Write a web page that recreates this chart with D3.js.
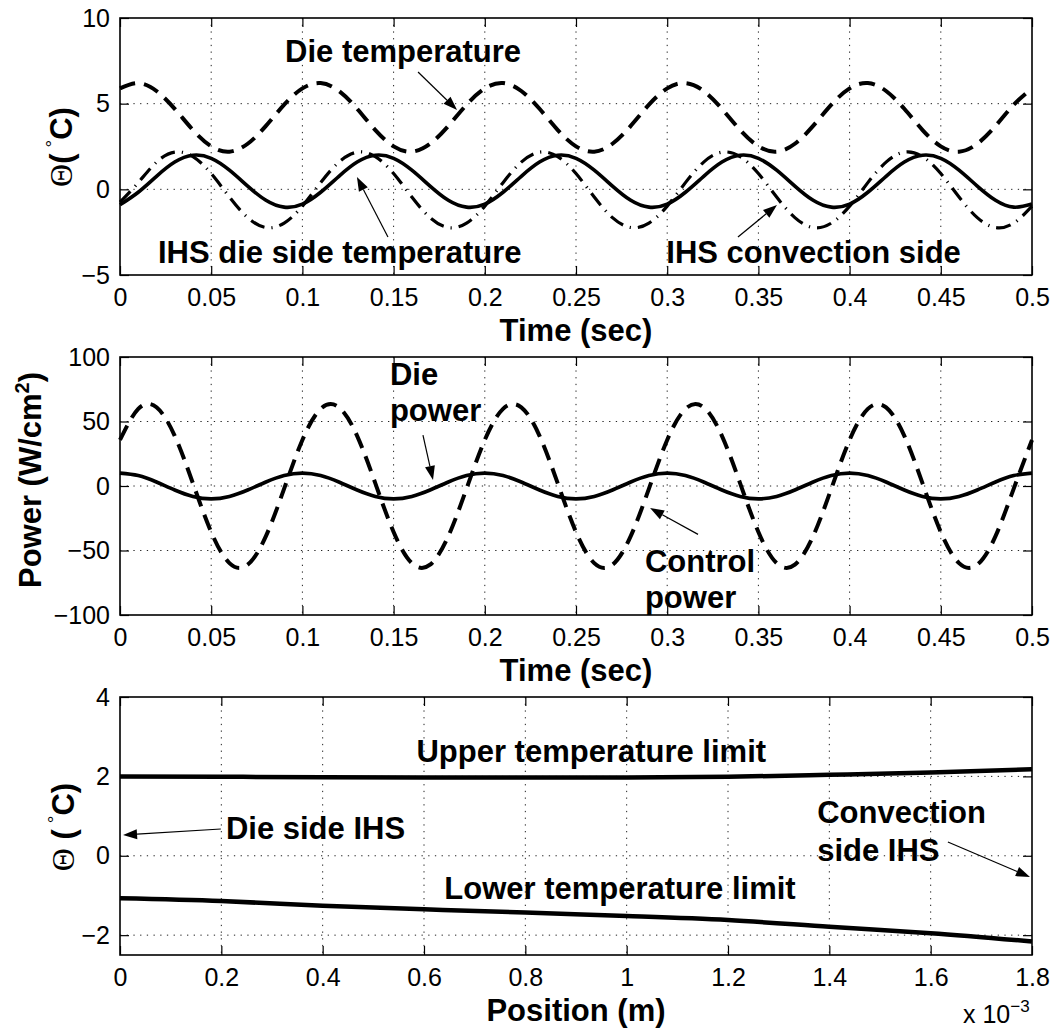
<!DOCTYPE html>
<html>
<head>
<meta charset="utf-8">
<script src="https://cdn.jsdelivr.net/npm/d3@7"></script>
<style>
  body { margin: 0; background: #fff; }
  svg { display: block; }
  text { font-family: "Liberation Sans", Arial, Helvetica, sans-serif; fill: #000; }
</style>
</head>
<body>
<svg id="fig" width="1055" height="1036"></svg>
<script>
// ---- data -------------------------------------------------------------
// time samples (s)
const timeSec = [0, 0.01, 0.02, 0.03, 0.04, 0.05, 0.06, 0.07, 0.08, 0.09,
  0.10, 0.11, 0.12, 0.13, 0.14, 0.15, 0.16, 0.17, 0.18, 0.19,
  0.20, 0.21, 0.22, 0.23, 0.24, 0.25, 0.26, 0.27, 0.28, 0.29,
  0.30, 0.31, 0.32, 0.33, 0.34, 0.35, 0.36, 0.37, 0.38, 0.39,
  0.40, 0.41, 0.42, 0.43, 0.44, 0.45, 0.46, 0.47, 0.48, 0.49, 0.50];

// temperatures (deg C)
const dieTemp = [5.89, 6.20, 5.74, 4.70, 3.46, 2.51, 2.20, 2.66, 3.70, 4.94,
  5.89, 6.20, 5.74, 4.70, 3.46, 2.51, 2.20, 2.66, 3.70, 4.94,
  5.89, 6.20, 5.74, 4.70, 3.46, 2.51, 2.20, 2.66, 3.70, 4.94,
  5.89, 6.20, 5.74, 4.70, 3.46, 2.51, 2.20, 2.66, 3.70, 4.94,
  5.89, 6.20, 5.74, 4.70, 3.46, 2.51, 2.20, 2.66, 3.70, 4.94, 5.89];
const ihsDieSide = [-0.90, -0.17, 0.76, 1.59, 1.99, 1.81, 1.12, 0.19, -0.64, -1.04,
  -0.86, -0.17, 0.76, 1.59, 1.99, 1.81, 1.12, 0.19, -0.64, -1.04,
  -0.86, -0.17, 0.76, 1.59, 1.99, 1.81, 1.12, 0.19, -0.64, -1.04,
  -0.86, -0.17, 0.76, 1.59, 1.99, 1.81, 1.12, 0.19, -0.64, -1.04,
  -0.86, -0.17, 0.76, 1.59, 1.99, 1.81, 1.12, 0.19, -0.64, -1.04, -0.86];
const ihsConvSide = [-0.75, 0.39, 1.59, 2.17, 1.91, 0.92, -0.45, -1.65, -2.23, -1.97,
  -0.98, 0.39, 1.59, 2.17, 1.91, 0.92, -0.45, -1.65, -2.23, -1.97,
  -0.98, 0.39, 1.59, 2.17, 1.91, 0.92, -0.45, -1.65, -2.23, -1.97,
  -0.98, 0.39, 1.59, 2.17, 1.91, 0.92, -0.45, -1.65, -2.23, -1.97,
  -0.98, 0.39, 1.59, 2.17, 1.91, 0.92, -0.45, -1.65, -2.23, -1.97, -0.98];

// heat fluxes (W/cm^2)
const diePower = [10, 8.1, 3.1, -3.1, -8.1, -10, -8.1, -3.1, 3.1, 8.1,
  10, 8.1, 3.1, -3.1, -8.1, -10, -8.1, -3.1, 3.1, 8.1,
  10, 8.1, 3.1, -3.1, -8.1, -10, -8.1, -3.1, 3.1, 8.1,
  10, 8.1, 3.1, -3.1, -8.1, -10, -8.1, -3.1, 3.1, 8.1,
  10, 8.1, 3.1, -3.1, -8.1, -10, -8.1, -3.1, 3.1, 8.1, 10];
const controlPower = [35.7, 59.8, 61.0, 38.9, 2.0, -35.7, -59.8, -61.0, -38.9, -2.0,
  35.7, 59.8, 61.0, 38.9, 2.0, -35.7, -59.8, -61.0, -38.9, -2.0,
  35.7, 59.8, 61.0, 38.9, 2.0, -35.7, -59.8, -61.0, -38.9, -2.0,
  35.7, 59.8, 61.0, 38.9, 2.0, -35.7, -59.8, -61.0, -38.9, -2.0,
  35.7, 59.8, 61.0, 38.9, 2.0, -35.7, -59.8, -61.0, -38.9, -2.0, 35.7];

// position through the IHS (x 1e-3 m) and temperature envelope (deg C)
const positionMm = [0, 0.2, 0.4, 0.6, 0.8, 1.0, 1.2, 1.4, 1.6, 1.8];
const upperLimit = [2.00, 1.99, 1.98, 1.975, 1.97, 1.975, 1.99, 2.04, 2.10, 2.18];
const lowerLimit = [-1.07, -1.14, -1.26, -1.35, -1.43, -1.52, -1.62, -1.79, -1.95, -2.16];

// tick values
const timeTicks = [0, 0.05, 0.1, 0.15, 0.2, 0.25, 0.3, 0.35, 0.4, 0.45, 0.5];
const tempTicks = [-5, 0, 5, 10];
const powerTicks = [-100, -50, 0, 50, 100];
const posTicks = [0, 0.2, 0.4, 0.6, 0.8, 1, 1.2, 1.4, 1.6, 1.8];
const envTicks = [-2, 0, 2, 4];

// ---- drawing ----------------------------------------------------------
const svg = d3.select("#fig");
const L = 120, R = 1032;
const FONT = '"Liberation Sans", Arial, Helvetica, sans-serif';

const fmt = d => String(+d.toFixed(4)).replace("-", "\u2212");

function panel(cfg) {
  const x = d3.scaleLinear().domain(cfg.xDomain).range([L, R]);
  const y = d3.scaleLinear().domain(cfg.yDomain).range([cfg.bottom, cfg.top]);
  const g = svg.append("g");

  // dotted grid
  const grid = g.append("g")
    .attr("stroke", "#222").attr("stroke-width", 1).attr("stroke-dasharray", "1.3,5.4");
  grid.selectAll(".gx")
    .data(cfg.xTicks.filter(v => v > cfg.xDomain[0] && v < cfg.xDomain[1]))
    .join("line")
    .attr("x1", d => x(d)).attr("x2", d => x(d))
    .attr("y1", cfg.top).attr("y2", cfg.bottom);
  grid.selectAll(".gy")
    .data(cfg.yTicks.filter(v => v > cfg.yDomain[0] && v < cfg.yDomain[1]))
    .join("line")
    .attr("y1", d => y(d)).attr("y2", d => y(d))
    .attr("x1", L).attr("x2", R);

  // axes with inward ticks on all four sides
  const style = sel => {
    sel.attr("font-size", 25).attr("font-family", FONT);
    sel.select(".domain").remove();
    sel.selectAll(".tick line").attr("stroke", "#000").attr("stroke-width", 1.2);
    sel.selectAll(".tick text").attr("fill", "#000");
  };
  g.append("g").attr("transform", `translate(0,${cfg.bottom})`)
    .call(d3.axisBottom(x).tickValues(cfg.xTicks).tickFormat(fmt)
      .tickSizeInner(-9).tickSizeOuter(0).tickPadding(13))
    .call(style);
  g.append("g").attr("transform", `translate(0,${cfg.top})`)
    .call(d3.axisTop(x).tickValues(cfg.xTicks).tickFormat("")
      .tickSizeInner(-9).tickSizeOuter(0))
    .call(style);
  g.append("g").attr("transform", `translate(${L},0)`)
    .call(d3.axisLeft(y).tickValues(cfg.yTicks).tickFormat(fmt)
      .tickSizeInner(-9).tickSizeOuter(0).tickPadding(10))
    .call(style);
  g.append("g").attr("transform", `translate(${R},0)`)
    .call(d3.axisRight(y).tickValues(cfg.yTicks).tickFormat("")
      .tickSizeInner(-9).tickSizeOuter(0))
    .call(style);

  // frame
  g.append("rect")
    .attr("x", L).attr("y", cfg.top)
    .attr("width", R - L).attr("height", cfg.bottom - cfg.top)
    .attr("fill", "none").attr("stroke", "#000").attr("stroke-width", 1.6);

  // x label
  g.append("text")
    .attr("x", (L + R) / 2).attr("y", cfg.bottom + 66)
    .attr("text-anchor", "middle")
    .attr("font-size", 31).attr("font-weight", "bold")
    .text(cfg.xLabel);

  return { g, x, y };
}

function curve(p, xs, ys, width, dash) {
  const line = d3.line()
    .x((d, i) => p.x(xs[i]))
    .y(d => p.y(d))
    .curve(d3.curveNatural);
  p.g.append("path")
    .attr("d", line(ys))
    .attr("fill", "none")
    .attr("stroke", "#000")
    .attr("stroke-width", width)
    .attr("stroke-dasharray", dash || null)
    .attr("stroke-linejoin", "round");
}

function label(p, xv, yv, lines, lineGap) {
  const t = p.g.append("text")
    .attr("font-size", 31).attr("font-weight", "bold");
  lines.forEach((s, i) => {
    t.append("tspan")
      .attr("x", p.x(xv))
      .attr("y", p.y(yv) + i * (lineGap || 0))
      .text(s);
  });
}

function arrow(p, x1, y1, x2, y2) {
  const ax = p.x(x1), ay = p.y(y1), bx = p.x(x2), by = p.y(y2);
  const a = Math.atan2(by - ay, bx - ax);
  const len = 14, hw = 5;
  const cx = bx - len * Math.cos(a), cy = by - len * Math.sin(a);
  p.g.append("line")
    .attr("x1", ax).attr("y1", ay).attr("x2", cx).attr("y2", cy)
    .attr("stroke", "#000").attr("stroke-width", 1.2);
  p.g.append("path")
    .attr("d", `M${bx},${by}L${cx + hw * Math.sin(a)},${cy - hw * Math.cos(a)}` +
               `L${cx - hw * Math.sin(a)},${cy + hw * Math.cos(a)}Z`)
    .attr("fill", "#000");
}

// rotated y label built from styled pieces
function yLabel(xBase, yMid, pieces) {
  const t = svg.append("text")
    .attr("transform", `translate(${xBase},${yMid}) rotate(-90)`)
    .attr("text-anchor", "middle")
    .attr("font-size", 31).attr("font-weight", "bold");
  pieces.forEach(pc => {
    const s = t.append("tspan").text(pc.text);
    if (pc.family) s.attr("font-family", pc.family);
    if (pc.weight) s.attr("font-weight", pc.weight);
    if (pc.size) s.attr("font-size", pc.size);
    if (pc.dy) s.attr("dy", pc.dy);
    if (pc.dx) s.attr("dx", pc.dx);
  });
}

// -- panel 1: temperatures vs time
const p1 = panel({ top: 18, bottom: 275, xDomain: [0, 0.5], yDomain: [-5, 10],
  xTicks: timeTicks, yTicks: tempTicks, xLabel: "Time (sec)" });
curve(p1, timeSec, ihsConvSide, 3.2, "15,7,1.2,7");
curve(p1, timeSec, dieTemp, 4, "16,9");
curve(p1, timeSec, ihsDieSide, 3.6);
label(p1, 0.0905, 7.43, ["Die temperature"]);
arrow(p1, 0.1634, 6.85, 0.1848, 4.63);
label(p1, 0.0208, -4.30, ["IHS die side temperature"]);
arrow(p1, 0.1469, -2.78, 0.1299, 0.72);
label(p1, 0.2995, -4.30, ["IHS convection side"]);
arrow(p1, 0.3388, -2.78, 0.3602, -0.91);

// -- panel 2: heat fluxes vs time
const p2 = panel({ top: 357, bottom: 615, xDomain: [0, 0.5], yDomain: [-100, 100],
  xTicks: timeTicks, yTicks: powerTicks, xLabel: "Time (sec)" });
curve(p2, timeSec, controlPower, 4, "16,9");
curve(p2, timeSec, diePower, 3.6);
label(p2, 0.148, 78.3, ["Die", "power"], 36);
arrow(p2, 0.1661, 39.5, 0.1716, 4.7);
label(p2, 0.2878, -66.5, ["Control", "power"], 36);
arrow(p2, 0.3169, -37.5, 0.2906, -17.1);

// -- panel 3: temperature envelope across the IHS
const p3 = panel({ top: 697, bottom: 955, xDomain: [0, 1.8], yDomain: [-2.5, 4],
  xTicks: posTicks, yTicks: envTicks, xLabel: "Position (m)" });
curve(p3, positionMm, upperLimit, 4.5);
curve(p3, positionMm, lowerLimit, 4.5);
label(p3, 0.585, 2.36, ["Upper temperature limit"]);
label(p3, 0.209, 0.42, ["Die side IHS"]);
arrow(p3, 0.199, 0.674, 0.006, 0.523);
label(p3, 0.64, -1.09, ["Lower temperature limit"]);
label(p3, 1.376, 0.83, ["Convection", "side IHS"], 38);
arrow(p3, 1.634, 0.347, 1.796, -0.535);

// axis exponent
const ex = svg.append("text")
  .attr("x", 963).attr("y", 1023)
  .attr("font-size", 25).text("x 10");
ex.append("tspan").attr("font-size", 17).attr("dy", -11).text("\u22123");

// y labels
const theta = { text: "\u0398", family: '"Liberation Serif", "DejaVu Serif", serif', weight: "normal", size: 32 };
yLabel(72, 147, [theta, { text: "(" }, { text: "\u00B0", size: 19, dy: -13, dx: 6, weight: "normal" }, { text: "C)", dy: 13 }]);
yLabel(41, 480, [{ text: "Power (W/cm" }, { text: "2", size: 20, dy: -12 }, { text: ")", dy: 12 }]);
yLabel(74, 827, [theta, { text: " (" }, { text: "\u00B0", size: 19, dy: -13, dx: 6, weight: "normal" }, { text: "C)", dy: 13 }]);
</script>
</body>
</html>
